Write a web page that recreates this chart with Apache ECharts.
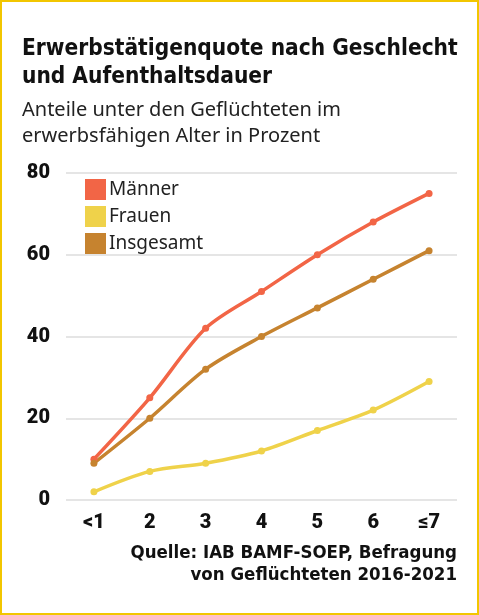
<!DOCTYPE html>
<html><head><meta charset="utf-8">
<script src="https://cdn.jsdelivr.net/npm/echarts@6/dist/echarts.min.js"></script>
<style>
html,body{margin:0;padding:0;background:#fff;}
#frame{position:absolute;left:0;top:0;width:475px;height:611px;border:2px solid #f2c600;}
#c{position:absolute;left:0;top:0;width:479px;height:615px;}
</style></head>
<body><div id="frame"></div><div id="c"></div>
<script>
const categories = ['<1','2','3','4','5','6','≤7'];
const maenner = [10, 25, 42, 51, 60, 68, 75];
const frauen = [2, 7, 9, 12, 17, 22, 29];
const insgesamt = [9, 20, 32, 40, 47, 54, 61];
const yTicks = [0, 20, 40, 60, 80];

const chart = echarts.init(document.getElementById('c'));
const mk = (name, data, color) => ({
  name, type: 'line', data, smooth: 0.3,
  symbol: 'circle', symbolSize: 7,
  lineStyle: {width: 3.5, color}, itemStyle: {color}
});
const srcStyle = {fontFamily: 'DejaVu Sans Condensed', fontWeight: 'bold', fontSize: 18.5, fill: '#111'};
chart.setOption({
  animation: false,
  title: [
    {text: 'Erwerbstätigenquote nach Geschlecht\nund Aufenthaltsdauer', left: 17, top: 30,
     textStyle: {fontFamily: 'DejaVu Sans Condensed', fontWeight: 'bold', fontSize: 22.5, lineHeight: 28, color: '#111'}},
    {text: 'Anteile unter den Geflüchteten im\nerwerbsfähigen Alter in Prozent', left: 17, top: 92,
     textStyle: {fontFamily: 'Noto Sans', fontWeight: 'normal', fontSize: 20, lineHeight: 26, color: '#222'}}
  ],
  graphic: [
    {type: 'text', right: 22, top: 544, style: Object.assign({text: 'Quelle: IAB BAMF-SOEP, Befragung'}, srcStyle)},
    {type: 'text', right: 22, top: 566, style: Object.assign({text: 'von Geflüchteten 2016-2021'}, srcStyle)}
  ],
  legend: {
    orient: 'vertical', left: 80, top: 174, itemWidth: 21, itemHeight: 21, itemGap: 6,
    icon: 'rect',
    textStyle: {fontFamily: 'Noto Sans', fontSize: 19, color: '#222', padding: [0,0,0,-2]},
    data: ['Männer','Frauen','Insgesamt']
  },
  grid: {left: 66, right: 22, top: 173, bottom: 115},
  xAxis: {
    type: 'category', data: categories, boundaryGap: true,
    axisLine: {show: false}, axisTick: {show: false},
    axisLabel: {fontFamily: 'Roboto', fontWeight: 900, fontSize: 20, color: '#111', margin: 13}
  },
  yAxis: {
    type: 'value', min: 0, max: 80, interval: 20,
    axisLine: {show: false}, axisTick: {show: false},
    splitLine: {lineStyle: {color: '#dcdcdc', width: 1.5}},
    axisLabel: {fontFamily: 'Roboto', fontWeight: 900, fontSize: 20, color: '#111', margin: 16,
      formatter: v => yTicks.includes(v) ? String(v) : ''}
  },
  series: [
    mk('Männer', maenner, '#f26546'),
    mk('Frauen', frauen, '#efd24a'),
    mk('Insgesamt', insgesamt, '#c6832f')
  ]
});
</script></body></html>
